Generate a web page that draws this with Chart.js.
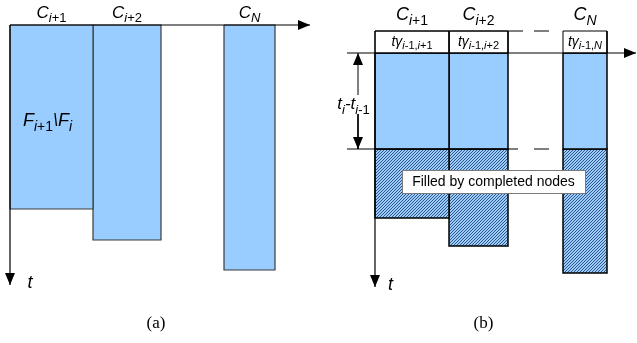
<!DOCTYPE html>
<html>
<head>
<meta charset="utf-8">
<script src="https://cdn.jsdelivr.net/npm/chart.js@4.4.1/dist/chart.umd.min.js"></script>
<style>
  html, body { margin: 0; padding: 0; background: #fff; }
  #wrap { position: relative; width: 637px; height: 343px; }
  canvas { position: absolute; top: 0; }
</style>
</head>
<body>
<div id="wrap">
  <canvas id="panelA" width="318" height="343" style="left:0"></canvas>
  <canvas id="panelB" width="319" height="343" style="left:318px"></canvas>
</div>
<script>
// columns shown in both panels
const columns = [['C', 'i+1'], ['C', 'i+2'], ['C', 'N']];

// panel (a): column edges and finish time of each column
const leftA = [0, 8.3, 21.4];
const rightA = [8.3, 15.1, 26.5];
const finishA = [18.4, 21.5, 24.5];
const axisEndA = { x: 30, t: 26 };

// panel (b): same columns, after the step t_i - t_{i-1}
const leftB = [0, 7.4, 18.8];
const rightB = [7.4, 13.3, 23.2];
const headerStartB = -2.2;     // t gamma_{i-1,j} header rows
const stepB = 9.6;             // t_i - t_{i-1}
const finishB = [16.5, 19.3, 22.0];
const headerLabels = [['i-1,i+1'], ['i-1,i+2'], ['i-1,N']];
const axisB = { xFrom: -2.8, xTo: 26.1, t: 23.4 };
const gapTop = [14.8, 15.9, 17.4];      // solid end, dash start, dash end (top line)
const gapStep = [14.3, 15.9, 17.4];     // same for the line at t_i - t_{i-1}

const BLUE = '#99ccff';
const FONT = '"Liberation Sans", Arial, sans-serif';

function hatchPattern() {
  const c = document.createElement('canvas');
  c.width = 3; c.height = 3;
  const g = c.getContext('2d');
  g.fillStyle = BLUE;
  g.fillRect(0, 0, 3, 3);
  g.fillStyle = '#34557f';
  g.fillRect(0, 2, 1, 1);
  g.fillRect(1, 1, 1, 1);
  g.fillRect(2, 0, 1, 1);
  return g.createPattern(c, 'repeat');
}

function rect(l, r, top, bottom, fill, border, width) {
  return {
    data: [{x: l, y: top}, {x: r, y: top}, {x: r, y: bottom}, {x: l, y: bottom}, {x: l, y: top}],
    showLine: true, fill: 'shape', backgroundColor: fill,
    borderColor: border, borderWidth: width, pointRadius: 0, tension: 0
  };
}

function seg(x1, y1, x2, y2, width, arrow) {
  return {
    data: [{x: x1, y: y1}, {x: x2, y: y2}],
    showLine: true, fill: false, borderColor: '#000', borderWidth: width,
    pointRadius: 0, tension: 0, arrow: arrow || 0
  };
}

// text with italic letters and subscripts, centered on x, baseline y
function richText(ctx, x, y, parts, size) {
  const font = p => (p[2] ? 'italic ' : '') + (p[1] ? Math.round(size * 0.76) : size) + 'px ' + FONT;
  let w = 0;
  parts.forEach(p => { ctx.font = font(p); w += ctx.measureText(p[0]).width; });
  let cx = x - w / 2;
  ctx.textAlign = 'left';
  ctx.textBaseline = 'alphabetic';
  ctx.fillStyle = '#000';
  parts.forEach(p => {
    ctx.font = font(p);
    ctx.fillText(p[0], cx, y + (p[1] ? size * 0.28 : 0));
    cx += ctx.measureText(p[0]).width;
  });
  return w;
}

function subParts(sub) {
  // letters italic, digits and signs upright
  return sub.split(/([a-zA-Z]+)/).filter(s => s).map(s => [s, true, /[a-zA-Z]/.test(s)]);
}

// draws arrow heads at the ends of datasets flagged with arrow (1 = end, 2 = both ends)
const arrowPlugin = {
  id: 'arrows',
  afterDatasetsDraw(chart) {
    const ctx = chart.ctx;
    chart.data.datasets.forEach((ds, i) => {
      if (!ds.arrow) return;
      const pts = chart.getDatasetMeta(i).data;
      const heads = [[pts[0], pts[1]]];
      if (ds.arrow === 2) heads.push([pts[1], pts[0]]);
      heads.forEach(([a, b]) => {
        const ang = Math.atan2(b.y - a.y, b.x - a.x);
        const len = ds.arrow === 2 ? 9 : 12, half = ds.arrow === 2 ? 3 : 5;
        ctx.save();
        ctx.translate(b.x, b.y);
        ctx.rotate(ang);
        ctx.fillStyle = '#000';
        ctx.beginPath();
        ctx.moveTo(0, 0);
        ctx.lineTo(-len, -half);
        ctx.lineTo(-len, half);
        ctx.closePath();
        ctx.fill();
        ctx.restore();
      });
    });
  }
};

function baseOptions(xmin, xmax, ymin, ymax) {
  return {
    responsive: false,
    animation: false,
    events: [],
    layout: { padding: 0 },
    plugins: { legend: { display: false }, tooltip: { enabled: false } },
    scales: {
      x: { type: 'linear', display: false, min: xmin, max: xmax },
      y: { type: 'linear', display: false, min: ymin, max: ymax, reverse: true }
    }
  };
}

// ---------- panel (a)
const dsA = [
  seg(0, 0, axisEndA.x, 0, 1.2, 1),
  seg(0, 0, 0, axisEndA.t, 1.2, 1)
];
columns.forEach((c, i) => dsA.push(rect(leftA[i], rightA[i], 0, finishA[i], BLUE, '#3a3a3a', 1.2)));

new Chart(document.getElementById('panelA'), {
  type: 'scatter',
  data: { datasets: dsA },
  options: baseOptions(-1, 30.8, -2.5, 31.8),
  plugins: [arrowPlugin, {
    id: 'labelsA',
    afterDraw(chart) {
      const ctx = chart.ctx, x = chart.scales.x, y = chart.scales.y;
      columns.forEach((c, i) => {
        richText(ctx, x.getPixelForValue((leftA[i] + rightA[i]) / 2), y.getPixelForValue(-0.75),
          [[c[0], false, true]].concat(subParts(c[1])), 17);
      });
      richText(ctx, x.getPixelForValue(3.75), y.getPixelForValue(10.1),
        [['F', false, true]].concat(subParts('i+1'), [['\\F', false, true], ['i', true, true]]), 18);
      richText(ctx, x.getPixelForValue(2.0), y.getPixelForValue(26.3), [['t', false, true]], 18);
      ctx.font = '17px "Liberation Serif", "Times New Roman", serif';
      ctx.textAlign = 'center';
      ctx.fillText('(a)', x.getPixelForValue(14.6), y.getPixelForValue(30.3));
    }
  }]
});

// ---------- panel (b)
const hatch = hatchPattern();
const dsB = [
  seg(axisB.xFrom, 0, axisB.xTo, 0, 1.2, 1),
  seg(0, headerStartB, 0, axisB.t, 1.2, 1),
  seg(-1.7, stepB / 2, -1.7, 0, 1, 1),
  seg(-1.7, stepB / 2, -1.7, stepB, 1, 1),
  seg(axisB.xFrom, stepB, gapStep[0], stepB, 1),
  seg(gapStep[1], stepB, gapStep[2], stepB, 1),
  seg(0, headerStartB, gapTop[0], headerStartB, 1),
  seg(gapTop[1], headerStartB, gapTop[2], headerStartB, 1)
];
columns.forEach((c, i) => dsB.push(rect(leftB[i], rightB[i], headerStartB, 0, '#ffffff', '#000', 1)));
columns.forEach((c, i) => dsB.push(rect(leftB[i], rightB[i], 0, stepB, BLUE, '#000', 1.5)));
columns.forEach((c, i) => dsB.push(rect(leftB[i], rightB[i], stepB, finishB[i], hatch, '#000', 1.5)));

new Chart(document.getElementById('panelB'), {
  type: 'scatter',
  data: { datasets: dsB },
  options: baseOptions(-5.7, 26.2, -5.3, 29),
  plugins: [arrowPlugin, {
    id: 'labelsB',
    afterDraw(chart) {
      const ctx = chart.ctx, x = chart.scales.x, y = chart.scales.y;
      columns.forEach((c, i) => {
        const cx = x.getPixelForValue((leftB[i] + rightB[i]) / 2);
        richText(ctx, cx, y.getPixelForValue(-3.3), [[c[0], false, true]].concat(subParts(c[1])), 18);
        richText(ctx, cx, y.getPixelForValue(-0.75),
          [['t\u03b3', false, true]].concat(subParts(headerLabels[i][0])), 14);
      });
      // t_i - t_{i-1} label on a white patch over the double arrow
      const lx = x.getPixelForValue(-2.15), ly = y.getPixelForValue(5.6);
      ctx.fillStyle = '#fff';
      ctx.fillRect(lx - 18, ly - 14, 36, 19);
      richText(ctx, lx, ly, [['t', false, true], ['i', true, true], ['-t', false, true]].concat(subParts('i-1')), 17);
      // note box
      const bx1 = x.getPixelForValue(2.7), bx2 = x.getPixelForValue(21.0);
      const by1 = y.getPixelForValue(11.7), by2 = y.getPixelForValue(14.0);
      ctx.fillStyle = '#fff';
      ctx.fillRect(bx1, by1, bx2 - bx1, by2 - by1);
      ctx.strokeStyle = '#7a7a7a';
      ctx.lineWidth = 1;
      ctx.strokeRect(Math.round(bx1) + 0.5, Math.round(by1) + 0.5, bx2 - bx1, by2 - by1);
      ctx.fillStyle = '#000';
      ctx.font = '14px ' + FONT;
      ctx.textAlign = 'center';
      ctx.textBaseline = 'middle';
      ctx.fillText('Filled by completed nodes', (bx1 + bx2) / 2, (by1 + by2) / 2 + 1);
      richText(ctx, x.getPixelForValue(1.55), y.getPixelForValue(23.7), [['t', false, true]], 18);
      ctx.font = '17px "Liberation Serif", "Times New Roman", serif';
      ctx.textAlign = 'center';
      ctx.fillText('(b)', x.getPixelForValue(10.85), y.getPixelForValue(27.5));
    }
  }]
});
</script>
</body>
</html>
